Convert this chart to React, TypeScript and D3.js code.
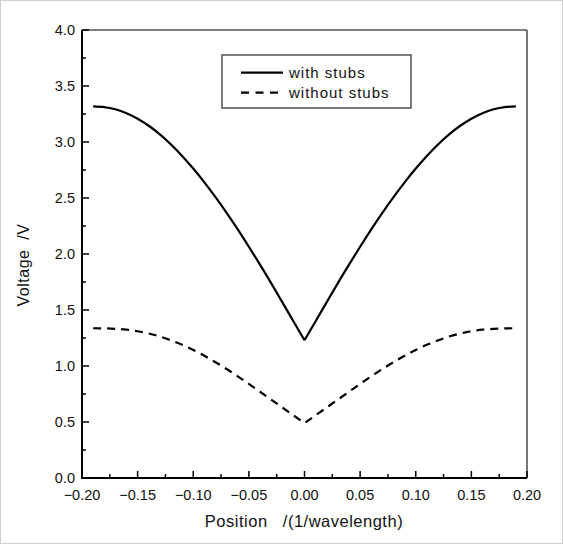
import React from "react";
import * as d3 from "d3";

const positions = [
  -0.19, -0.18, -0.17, -0.16, -0.15, -0.14, -0.13, -0.12, -0.11, -0.10,
  -0.09, -0.08, -0.07, -0.06, -0.05, -0.04, -0.03, -0.02, -0.01, 0.0,
  0.01, 0.02, 0.03, 0.04, 0.05, 0.06, 0.07, 0.08, 0.09, 0.10,
  0.11, 0.12, 0.13, 0.14, 0.15, 0.16, 0.17, 0.18, 0.19,
];

const withStubs = [
  3.318, 3.312, 3.292, 3.257, 3.208, 3.145, 3.068, 2.978, 2.876, 2.763,
  2.64, 2.508, 2.368, 2.22, 2.065, 1.905, 1.74, 1.57, 1.4, 1.23,
  1.4, 1.57, 1.74, 1.905, 2.065, 2.22, 2.368, 2.508, 2.64, 2.763,
  2.876, 2.978, 3.068, 3.145, 3.208, 3.257, 3.292, 3.312, 3.318,
];

const withoutStubs = [
  1.337, 1.336, 1.332, 1.324, 1.31, 1.29, 1.263, 1.229, 1.189, 1.143,
  1.091, 1.034, 0.973, 0.908, 0.84, 0.77, 0.7, 0.63, 0.56, 0.49,
  0.56, 0.63, 0.7, 0.77, 0.84, 0.908, 0.973, 1.034, 1.091, 1.143,
  1.189, 1.229, 1.263, 1.29, 1.31, 1.324, 1.332, 1.336, 1.337,
];

const xTicks = [-0.2, -0.15, -0.1, -0.05, 0, 0.05, 0.1, 0.15, 0.2];
const xMinor = [-0.175, -0.125, -0.075, -0.025, 0.025, 0.075, 0.125, 0.175];
const yTicks = [0, 0.5, 1.0, 1.5, 2.0, 2.5, 3.0, 3.5, 4.0];
const yMinor = [0.25, 0.75, 1.25, 1.75, 2.25, 2.75, 3.25, 3.75];

const legendLabels = ["with stubs", "without stubs"];
const xTitle = "Position   /(1/wavelength)";
const yTitle = "Voltage  /V";

const W = 563;
const H = 544;
const L = 82;
const R = 527;
const T = 30;
const B = 478;

export default function App() {
  const x = d3.scaleLinear().domain([-0.2, 0.2]).range([L, R]);
  const y = d3.scaleLinear().domain([0, 4]).range([B, T]);

  const mid = positions.indexOf(0);
  const mk = (offset: number) =>
    d3
      .line<number>()
      .x((_, i) => x(positions[i + offset]))
      .y((d) => y(d))
      .curve(d3.curveNatural);
  const seg = (arr: number[]) => [
    mk(0)(arr.slice(0, mid + 1)) || "",
    mk(mid)(arr.slice(mid)) || "",
  ];
  const solidSegs = seg(withStubs);
  const dashSegs = seg(withoutStubs);

  const fmtX = (v: number) => {
    const s = Math.abs(v).toFixed(2);
    return v < -1e-9 ? "\u2212" + s : s;
  };
  const fmtY = (v: number) => v.toFixed(1);

  const font = "'Liberation Sans', Arial, Helvetica, sans-serif";

  return (
    <svg
      width={W}
      height={H}
      style={{ position: "absolute", left: 0, top: 0, background: "#fff" }}
      fontFamily={font}
    >
      <rect x={0.5} y={0.5} width={W - 1} height={H - 1} fill="#fff" stroke="#cfcfcf" />
      <line x1={L} x2={R} y1={T} y2={T} stroke="#555" strokeWidth={1.6} />
      <line x1={R} x2={R} y1={T} y2={B} stroke="#555" strokeWidth={1.6} />

      {solidSegs.map((d, i) => (
        <path key={"s" + i} d={d} fill="none" stroke="#000" strokeWidth={2.2} />
      ))}
      <path
        d={dashSegs[0] + dashSegs[1].replace(/^M/, "L")}
        fill="none"
        stroke="#000"
        strokeWidth={2.2}
        strokeDasharray="8,6"
      />

      <line x1={L} x2={R} y1={B} y2={B} stroke="#000" strokeWidth={2} />
      <line x1={L} x2={L} y1={T} y2={B + 1} stroke="#000" strokeWidth={2} />
      {xTicks.map((t) => (
        <g key={"xt" + t}>
          <line x1={x(t)} x2={x(t)} y1={B} y2={B - 7} stroke="#000" strokeWidth={1.5} />
          <text x={x(t)} y={500} textAnchor="middle" fontSize={14.5} fill="#111">
            {fmtX(t)}
          </text>
        </g>
      ))}
      {xMinor.map((t) => (
        <line key={"xm" + t} x1={x(t)} x2={x(t)} y1={B} y2={B - 4} stroke="#000" strokeWidth={1.5} />
      ))}
      {yTicks.map((t) => (
        <g key={"yt" + t}>
          <line x1={L} x2={L + 7} y1={y(t)} y2={y(t)} stroke="#000" strokeWidth={1.5} />
          <text x={75} y={y(t) + 5} textAnchor="end" fontSize={14.5} fill="#111">
            {fmtY(t)}
          </text>
        </g>
      ))}
      {yMinor.map((t) => (
        <line key={"ym" + t} x1={L} x2={L + 4} y1={y(t)} y2={y(t)} stroke="#000" strokeWidth={1.5} />
      ))}

      <text
        x={304}
        y={527}
        textAnchor="middle"
        fontSize={16.5}
        fill="#111"
        letterSpacing={0.5}
        style={{ whiteSpace: "pre" }}
      >
        {xTitle}
      </text>
      <text
        transform={`translate(29, ${265}) rotate(-90)`}
        textAnchor="middle"
        fontSize={16}
        fill="#111"
        letterSpacing={0.5}
        style={{ whiteSpace: "pre" }}
      >
        {yTitle}
      </text>

      <rect x={222} y={55} width={189} height={53} fill="#fff" stroke="#444" strokeWidth={1.4} />
      <line x1={241} x2={283} y1={72.7} y2={72.7} stroke="#000" strokeWidth={2.2} />
      <line x1={241} x2={283} y1={92.7} y2={92.7} stroke="#000" strokeWidth={2.2} strokeDasharray="8,6.5" />
      <text x={289} y={78} fontSize={15} fill="#111" letterSpacing={1}>
        {legendLabels[0]}
      </text>
      <text x={289} y={98} fontSize={15} fill="#111" letterSpacing={1}>
        {legendLabels[1]}
      </text>
    </svg>
  );
}
